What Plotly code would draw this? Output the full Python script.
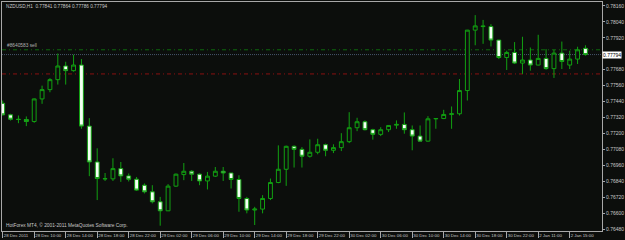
import plotly.graph_objects as go

bar_index = list(range(75))
opens = [0.77427, 0.77340, 0.77307, 0.77305, 0.77290, 0.77460, 0.77530, 0.77605, 0.77708, 0.77673,
         0.77715, 0.77255, 0.76985, 0.76860, 0.76858, 0.76935, 0.76880, 0.76855, 0.76810, 0.76760,
         0.76685, 0.76617, 0.76803, 0.76890, 0.76915, 0.76893, 0.76842, 0.76878, 0.76915, 0.76902,
         0.76853, 0.76710, 0.76623, 0.76630, 0.76710, 0.76830, 0.76930, 0.77103, 0.77080, 0.77028,
         0.77058, 0.77115, 0.77073, 0.77093, 0.77138, 0.77243, 0.77288, 0.77228, 0.77193, 0.77228,
         0.77262, 0.77268, 0.77228, 0.77180, 0.77142, 0.77310, 0.77312, 0.77343, 0.77348, 0.77523,
         0.77978, 0.78010, 0.78005, 0.77903, 0.77772, 0.77810, 0.77730, 0.77753, 0.77715, 0.77765,
         0.77688, 0.77805, 0.77715, 0.77760, 0.77841]
highs = [0.77448, 0.77348, 0.77335, 0.77328, 0.77463, 0.77560, 0.77616, 0.77802, 0.77740, 0.77793,
         0.77760, 0.77315, 0.77088, 0.76902, 0.77013, 0.76985, 0.76898, 0.76872, 0.76823, 0.76810,
         0.76722, 0.76818, 0.76898, 0.76977, 0.76923, 0.76898, 0.76910, 0.76947, 0.76947, 0.76902,
         0.76885, 0.76722, 0.76647, 0.76735, 0.76860, 0.77110, 0.77108, 0.77110, 0.77097, 0.77155,
         0.77160, 0.77123, 0.77118, 0.77202, 0.77360, 0.77318, 0.77298, 0.77235, 0.77247, 0.77262,
         0.77298, 0.77358, 0.77260, 0.77260, 0.77330, 0.77315, 0.77378, 0.77403, 0.77610, 0.77980,
         0.78091, 0.78055, 0.78023, 0.77905, 0.77823, 0.77888, 0.77928, 0.77847, 0.77943, 0.77835,
         0.77830, 0.77892, 0.77823, 0.77853, 0.77864]
lows = [0.77335, 0.77297, 0.77277, 0.77255, 0.77280, 0.77423, 0.77510, 0.77568, 0.77568, 0.77665,
        0.77235, 0.76878, 0.76698, 0.76842, 0.76842, 0.76835, 0.76838, 0.76767, 0.76748, 0.76673,
        0.76505, 0.76615, 0.76797, 0.76848, 0.76842, 0.76810, 0.76778, 0.76872, 0.76842, 0.76785,
        0.76610, 0.76598, 0.76510, 0.76598, 0.76698, 0.76825, 0.76805, 0.76943, 0.76943, 0.77018,
        0.77043, 0.77028, 0.77052, 0.77067, 0.77127, 0.77217, 0.77223, 0.77153, 0.77180, 0.77210,
        0.77235, 0.77198, 0.77073, 0.77140, 0.77138, 0.77235, 0.77308, 0.77235, 0.77335, 0.77448,
        0.77864, 0.77875, 0.77855, 0.77760, 0.77678, 0.77723, 0.77648, 0.77673, 0.77713, 0.77680,
        0.77618, 0.77685, 0.77685, 0.77723, 0.77786]
closes = [0.77340, 0.77307, 0.77305, 0.77290, 0.77460, 0.77530, 0.77605, 0.77708, 0.77673, 0.77715,
          0.77255, 0.76985, 0.76860, 0.76858, 0.76935, 0.76880, 0.76855, 0.76773, 0.76760, 0.76685,
          0.76617, 0.76803, 0.76893, 0.76915, 0.76893, 0.76842, 0.76878, 0.76915, 0.76902, 0.76853,
          0.76710, 0.76623, 0.76630, 0.76710, 0.76830, 0.76930, 0.77103, 0.77080, 0.77028, 0.77058,
          0.77115, 0.77073, 0.77093, 0.77138, 0.77243, 0.77288, 0.77228, 0.77193, 0.77228, 0.77260,
          0.77268, 0.77228, 0.77180, 0.77142, 0.77310, 0.77312, 0.77343, 0.77348, 0.77523, 0.77978,
          0.78010, 0.78005, 0.77903, 0.77772, 0.77810, 0.77730, 0.77753, 0.77715, 0.77765, 0.77688,
          0.77805, 0.77742, 0.77760, 0.77830, 0.77794]

time_tick_bars = [0, 4, 8, 12, 16, 20, 24, 28, 32, 36, 40, 44, 48, 52, 56, 60, 64, 68, 72]
time_tick_labels = ["28 Dec 2011", "28 Dec 10:00", "28 Dec 14:00", "28 Dec 18:00", "28 Dec 22:00",
                    "29 Dec 02:00", "29 Dec 06:00", "29 Dec 10:00", "29 Dec 14:00", "29 Dec 18:00",
                    "29 Dec 22:00", "30 Dec 02:00", "30 Dec 06:00", "30 Dec 10:00", "30 Dec 14:00",
                    "30 Dec 18:00", "30 Dec 22:00", "2 Jan 11:00", "2 Jan 15:00"]
price_ticks = [0.78160, 0.78040, 0.77920, 0.77680, 0.77560, 0.77440, 0.77320, 0.77200,
               0.77080, 0.76960, 0.76840, 0.76720, 0.76600, 0.76480]

order_price = 0.77830
order_label = "#8640583 sell"
tp_price = 0.77648
bid_price = 0.77794
header_text = "NZDUSD,H1  0.77841 0.77864 0.77786 0.77794"
footer_text = "HotForex MT4, \u00a9 2001-2011 MetaQuotes Software Corp."

BG = "#0c0e0c"
GREEN = "#12a012"
AXIS = "#a8a8a8"
TXT = "#c8c8c8"
FONT = "Liberation Sans"

fig = go.Figure()
fig.add_trace(go.Candlestick(
    x=bar_index, open=opens, high=highs, low=lows, close=closes,
    increasing=dict(line=dict(color=GREEN, width=1), fillcolor=BG),
    decreasing=dict(line=dict(color=GREEN, width=1), fillcolor="#f4fff4"),
    whiskerwidth=0, hoverinfo="skip", showlegend=False,
))

shapes = [
    dict(type="line", xref="paper", x0=0, x1=1, yref="y", y0=order_price, y1=order_price,
         line=dict(color="#0e6a0e", width=1, dash="4px,3px,1px,3px"), layer="below"),
    dict(type="line", xref="paper", x0=0, x1=1, yref="y", y0=bid_price, y1=bid_price,
         line=dict(color="#46556a", width=1, dash="1px,1px"), layer="below"),
    dict(type="line", xref="paper", x0=0, x1=1, yref="y", y0=tp_price, y1=tp_price,
         line=dict(color="#8a1010", width=1, dash="4px,3px,1px,3px"), layer="below"),
]

annotations = [
    dict(text=header_text, xref="paper", yref="paper", x=0, y=1, xanchor="left", yanchor="top",
         xshift=2, yshift=0, showarrow=False, font=dict(family=FONT, size=4.7, color=TXT)),
    dict(text=footer_text, xref="paper", yref="paper", x=0, y=0, xanchor="left", yanchor="bottom",
         xshift=2, yshift=1, showarrow=False, font=dict(family=FONT, size=4.8, color=TXT)),
    dict(text=order_label, xref="paper", yref="y", x=0, y=order_price, xanchor="left", yanchor="bottom",
         xshift=3, yshift=0, showarrow=False, font=dict(family=FONT, size=4.8, color="#b0b0b0")),
    dict(text="{:.5f}".format(bid_price), xref="paper", yref="y", x=1, y=bid_price, xanchor="left",
         yanchor="middle", xshift=0, showarrow=False, bgcolor="#ffffff", borderpad=0,
         font=dict(family=FONT, size=5, color="#000000")),
]

fig.update_layout(
    width=625, height=240,
    margin=dict(l=1, r=18, t=1, b=9, pad=0),
    paper_bgcolor=BG, plot_bgcolor=BG,
    shapes=shapes, annotations=annotations,
    showlegend=False,
    xaxis=dict(range=[-0.088, 76.1], rangeslider=dict(visible=False), showgrid=False, zeroline=False,
               tickvals=time_tick_bars, ticktext=time_tick_labels, ticks="outside", ticklen=6,
               tickcolor=AXIS, tickwidth=1, ticklabelposition="outside right", tickangle=0,
               tickfont=dict(family=FONT, size=4.4, color=TXT),
               showline=True, linecolor=AXIS, linewidth=1, mirror=True, fixedrange=True),
    yaxis=dict(range=[0.76465, 0.78190], side="right", showgrid=False, zeroline=False,
               tickvals=price_ticks, tickformat=".5f", ticks="outside", ticklen=2,
               tickcolor=AXIS, tickfont=dict(family=FONT, size=5, color=TXT),
               showline=True, linecolor=AXIS, linewidth=1, mirror=True, fixedrange=True),
)

fig.write_html("out.html")
